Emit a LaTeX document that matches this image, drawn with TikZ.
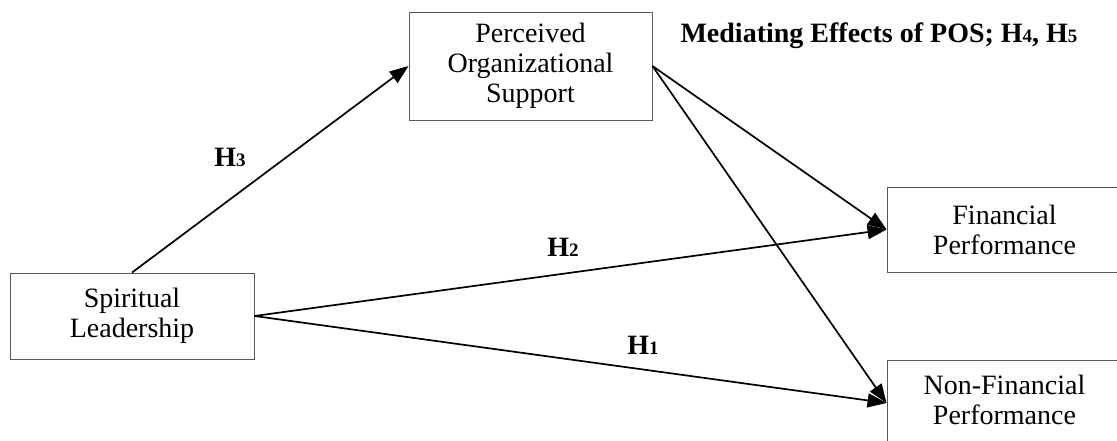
\documentclass[tikz,border=0pt]{standalone}
\usepackage{fontspec}
\setmainfont{Liberation Serif}
\usetikzlibrary{
  arrows.meta,
  positioning
}
\newcommand{\hnum}[1]{{\fontsize{19}{19}\selectfont #1}}

\begin{document}
\begin{tikzpicture}[
    x=1pt, y=-1pt,
    every node/.style={font=\fontsize{28}{30}\selectfont},
    box/.style={
      draw=black!65,
      line width=0.9pt,
      align=center,
      inner sep=0pt
    },
    hyp/.style={
      draw=none,
      font=\fontsize{28}{30}\selectfont\bfseries
    },
    ar/.style={-{Triangle[length=19pt, width=14pt]}, line width=1.7pt}
  ]
    \clip (0,0) rectangle (1117,440);
    \fill[white] (0,0) rectangle (1117,440);

    % Constructs
    \node[box, minimum width=243pt, minimum height=108pt] (pos) at (530.5,66)
      {Perceived\\Organizational\\Support};
    \node[box, minimum width=244pt, minimum height=86pt] (sl) at (132,316)
      {Spiritual\\Leadership};
    \node[box, minimum width=235pt, minimum height=85pt] (fin) at (1004.5,229.5)
      {Financial\\Performance};
    \node[box, minimum width=235pt, minimum height=86pt] (nfin) at (1004.5,403)
      {\raisebox{3pt}{\begin{tabular}{@{}c@{}}Non-Financial\\Performance\end{tabular}}};

    % Hypothesised paths
    \draw[ar] (sl.north) -- (pos.west);
    \draw[ar] (sl.east) -- (fin.west);
    \draw[ar] (sl.east) -- (nfin.west);
    \draw[ar] (pos.east) -- (fin.west);
    \draw[ar] (pos.east) -- (nfin.west);

    % Labels
    \node[hyp] (h3) at (230,157) {H\hnum{3}};
    \node[hyp] (h2) at (563,247) {H\hnum{2}};
    \node[hyp] (h1) at (643,345) {H\hnum{1}};
    \node[hyp, anchor=base west] (med) at (677,42)
      {Mediating Effects of POS; H\hnum{4}, H\hnum{5}};

  \end{tikzpicture}
\end{document}
